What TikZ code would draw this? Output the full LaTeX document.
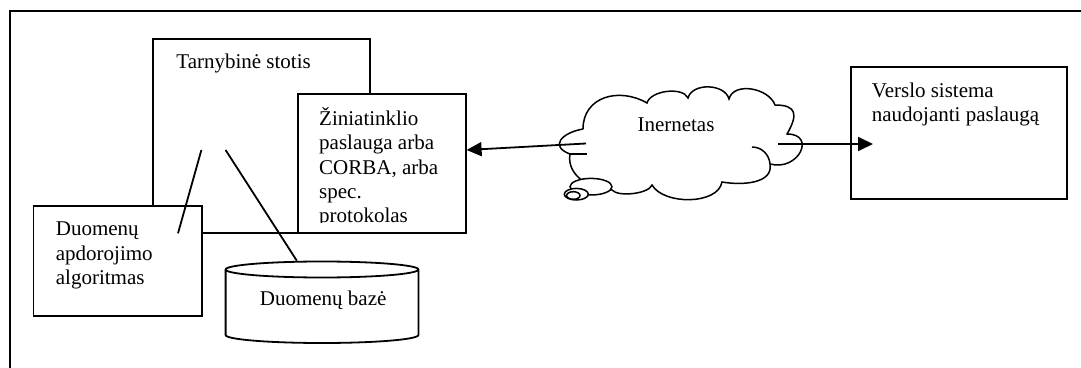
\documentclass[tikz,border=0pt]{standalone}
\usepackage{fontspec}
\setmainfont{Liberation Serif}
\usetikzlibrary{arrows.meta}
\newcommand\txtlines[1]{\begin{tabular}[t]{@{}l@{}}#1\end{tabular}}
\begin{document}
\begin{tikzpicture}[x=1pt,y=1pt,
  line width=1.8pt,
  box/.style={draw, fill=white, rectangle, inner sep=0pt, line width=1.8pt},
  txt/.style={anchor=base west, inner sep=0pt, font=\fontsize{21}{24.2}\selectfont},
  link/.style={line width=1.8pt},
  arr/.style={line width=1.8pt, -{Triangle[length=15pt,width=14pt]}},
  cloudline/.style={line width=1.5pt},
]
\useasboundingbox (0,0) rectangle (1081,367);
\clip (0,0) rectangle (1081,367);

% outer frame (runs off the right and bottom edges)
\draw[line width=2pt] (1090,356) -- (9.6,356) -- (9.6,-10);

% server with its parts
\node[box, minimum width=217pt, minimum height=194pt] (srv) at (261.7,230.7) {};
\node[box, minimum width=168.4pt, minimum height=139pt] (web) at (382,203.2) {};
\node[box, minimum width=168.3pt, minimum height=110.3pt] (alg) at (117.65,106.15) {};

% database cylinder
\draw[fill=white] (225.6,97.5) -- (225.6,32)
  arc[start angle=180, end angle=360, x radius=96.4, y radius=8]
  -- (418.4,97.5)
  arc[start angle=0, end angle=360, x radius=96.4, y radius=8];

% business system
\node[box, minimum width=216.3pt, minimum height=132.3pt] (biz) at (958.75,234.15) {};

% internal links
\coordinate (hubL) at (201.4,217);
\coordinate (algIn) at (178,133.7);
\coordinate (hubR) at (225.6,217);
\coordinate (dbTop) at (296.8,106.3);
\draw[link] (hubL) -- (algIn);
\draw[link] (hubR) -- (dbTop);

% internet cloud
\draw[cloudline, fill=white]
  (583,238) to[out=90,in=150,looseness=1.2] (647,264)
  to[out=75,in=115,looseness=0.8] (688,269)
  to[out=75,in=105] (729,268)
  to[out=75,in=110] (775,262)
  to[out=0,in=60,looseness=1.8] (787,233)
  to[out=0,in=-15,looseness=2.2] (770,203)
  to[out=-80,in=-10] (722,185)
  to[out=-100,in=-60,looseness=0.85] (652,182)
  to[out=-110,in=-50,looseness=0.6] (612,177)
  to[out=180,in=-100] (570,213)
  to[out=160,in=190,looseness=2] (583,238);
\draw[cloudline] (570,213) -- (587,213);
\draw[cloudline] (752,220) to[out=0,in=95] (770,203);
\draw[cloudline, fill=white] (591,180.3) ellipse[x radius=21, y radius=8.3];
\draw[cloudline, fill=white] (576.3,172.8) ellipse[x radius=12, y radius=5.8];
\draw[cloudline] (573.3,171.5) ellipse[x radius=6.7, y radius=3.8];

% arrows
\coordinate (netL) at (586,223.5);
\coordinate (webIn) at (466.6,217);
\draw[arr] (netL) -- (webIn);
\coordinate (netR) at (778.3,223);
\coordinate (bizIn) at (873,223);
\draw[arr] (netR) -- (bizIn);

% labels
\node[txt] (srvtxt) at (175.5,298) {Tarnybinė stotis};
\begin{scope}
  \clip (297.8,144.5) rectangle (466.2,272.7);
  \node[txt] (webtxt) at (318.3,241.3) {\txtlines{Žiniatinklio\\paslauga arba\\CORBA, arba\\spec.\\protokolas}};
\end{scope}
\node[txt] (algtxt) at (55,131) {\txtlines{Duomenų\\apdorojimo\\algoritmas}};
\node[txt] (dbtxt) at (259,62) {Duomenų bazė};
\node[txt] (biztxt) at (871,269.7) {\txtlines{Verslo sistema\\naudojanti paslaugą}};
\node[txt] (nettxt) at (636.6,235.7) {Inernetas};
\end{tikzpicture}
\end{document}
